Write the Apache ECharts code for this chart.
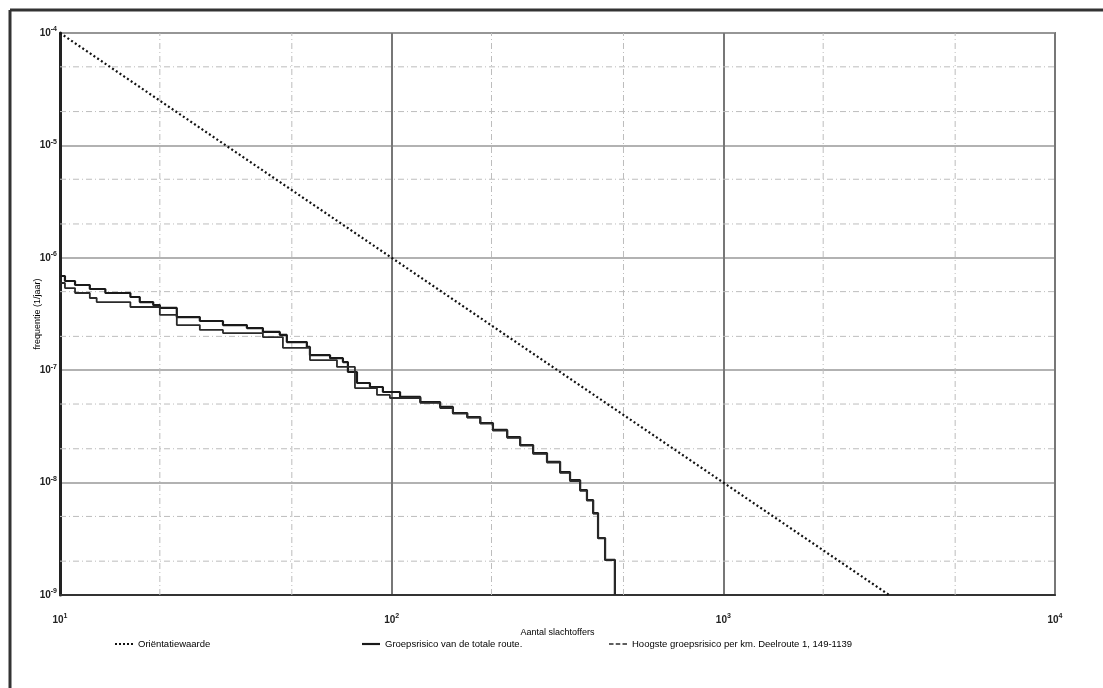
<!DOCTYPE html>
<html>
<head>
<meta charset="utf-8">
<script src="https://cdn.jsdelivr.net/npm/echarts@6/dist/echarts.min.js"></script>
<style>
html,body{margin:0;padding:0;background:#fff;}
#chart{width:1103px;height:688px;}
</style>
</head>
<body>
<div id="chart"></div>
<script>
// ---- data ----
const xExponents = [1, 2, 3, 4];
const yExponents = [-9, -8, -7, -6, -5, -4];

const orientN = [10, 3162.3];
const orientF = [1e-4, 1e-9];

const totalN = [10, 10.35, 11.1, 12.3, 13.7, 16.3, 17.4, 19.1, 20, 22.5, 26.4, 31, 36.6, 40.9, 46, 48.3, 55.5, 56.7, 65.2, 71.3, 73.8, 78.6, 86, 94.1, 106, 122, 140, 153, 169, 185, 202, 223, 244, 267, 294, 322, 345, 370, 388, 405, 419, 440, 471];
const totalF = [6.89e-7, 6.22e-7, 5.73e-7, 5.28e-7, 4.86e-7, 4.48e-7, 4.04e-7, 3.80e-7, 3.58e-7, 2.97e-7, 2.74e-7, 2.52e-7, 2.37e-7, 2.19e-7, 2.06e-7, 1.78e-7, 1.61e-7, 1.36e-7, 1.28e-7, 1.18e-7, 9.64e-8, 7.69e-8, 7.09e-8, 6.40e-8, 5.78e-8, 5.21e-8, 4.71e-8, 4.16e-8, 3.83e-8, 3.39e-8, 2.94e-8, 2.54e-8, 2.16e-8, 1.83e-8, 1.53e-8, 1.24e-8, 1.05e-8, 8.59e-9, 7.00e-9, 5.36e-9, 3.21e-9, 2.05e-9, 1e-9];

const kmN = [10, 10.35, 11.1, 12.3, 12.9, 16.3, 20, 22.5, 26.4, 31, 40.9, 47, 56.7, 68.4, 77.5, 90.3, 98.8, 122, 140, 153, 169, 185, 202, 223, 244, 267, 294, 322, 345, 370, 388, 405, 419, 440, 471];
const kmF = [5.97e-7, 5.38e-7, 4.86e-7, 4.39e-7, 4.04e-7, 3.65e-7, 3.10e-7, 2.52e-7, 2.28e-7, 2.14e-7, 1.97e-7, 1.58e-7, 1.23e-7, 1.07e-7, 6.94e-8, 6.02e-8, 5.66e-8, 5.11e-8, 4.61e-8, 4.10e-8, 3.78e-8, 3.35e-8, 2.90e-8, 2.50e-8, 2.13e-8, 1.80e-8, 1.51e-8, 1.22e-8, 1.03e-8, 8.45e-9, 6.9e-9, 5.3e-9, 3.2e-9, 2.05e-9, 1e-9];

const minorX = [20, 50, 200, 500, 2000, 5000];
const minorY = [2e-9, 5e-9, 2e-8, 5e-8, 2e-7, 5e-7, 2e-6, 5e-6, 2e-5, 5e-5];

const names = ['Oriëntatiewaarde', 'Groepsrisico van de totale route.', 'Hoogste groepsrisico per km. Deelroute 1, 149-1139'];
const xName = 'Aantal slachtoffers';
const yName = 'frequentie (1/jaar)';

// ---- chart ----
const FONT = "'Liberation Sans Narrow', 'Liberation Sans', Arial, sans-serif";
const zip = (a, b) => a.map((v, i) => [v, b[i]]);
const supFmt = (list) => (v) => {
  const e = Math.round(Math.log10(v));
  return list.includes(e) ? '{b|10}{s|' + e + '}' : '';
};
const rich = {
  b: { fontSize: 10, fontWeight: 'bold', fontFamily: FONT, color: '#222' },
  s: { fontSize: 7, fontWeight: 'bold', fontFamily: FONT, color: '#222', padding: [0, 0, 7, 0] }
};
const X_MIN = 10, X_MAX = 10000, Y_MIN = 1e-9, Y_MAX = 1e-4;

const chart = echarts.init(document.getElementById('chart'), null, { renderer: 'canvas' });
const legendText = { fontSize: 9.5, fontFamily: FONT, color: '#000' };
const minorStyle = { color: '#bdbdbd', width: 1, type: [6, 3, 1, 3] };

const minorSeries = minorX.map(v => ({
  type: 'line', data: [[v, Y_MIN], [v, Y_MAX]], showSymbol: false, symbol: 'none', silent: true,
  lineStyle: minorStyle, z: 1
})).concat(minorY.map(v => ({
  type: 'line', data: [[X_MIN, v], [X_MAX, v]], showSymbol: false, symbol: 'none', silent: true,
  lineStyle: minorStyle, z: 1
})));

chart.setOption({
  animation: false,
  backgroundColor: '#fff',
  grid: { left: 60, right: 48, top: 33, bottom: 93, show: true, borderColor: '#777', borderWidth: 2, containLabel: false },
  xAxis: {
    type: 'log', logBase: 10, min: X_MIN, max: X_MAX,
    name: xName, nameLocation: 'middle', nameGap: 33, nameMoveOverlap: false,
    nameTextStyle: { fontSize: 9, fontFamily: FONT, color: '#000' },
    axisLine: { show: true, lineStyle: { color: '#333', width: 2 } },
    axisTick: { show: false },
    axisLabel: { margin: 18, formatter: supFmt(xExponents), rich: rich },
    splitLine: { show: true, lineStyle: { color: '#777', width: 2 } }
  },
  yAxis: {
    type: 'log', logBase: 10, min: Y_MIN, max: Y_MAX,
    name: yName, nameLocation: 'middle', nameGap: 18, nameRotate: 90, nameMoveOverlap: false,
    nameTextStyle: { fontSize: 9, fontFamily: FONT, color: '#000' },
    axisLine: { show: true, lineStyle: { color: '#222', width: 3 } },
    axisTick: { show: false },
    axisLabel: { margin: 3, formatter: supFmt(yExponents), rich: rich },
    splitLine: { show: true, lineStyle: { color: '#999', width: 1.5 } }
  },
  legend: [
    { data: [{ name: names[0], icon: 'path://M0,0h2v2h-2zM4,0h2v2h-2zM8,0h2v2h-2zM12,0h2v2h-2zM16,0h2v2h-2z' }],
      left: 115, top: 639, itemWidth: 18, itemHeight: 3, textStyle: legendText, padding: 0 },
    { data: [{ name: names[1], icon: 'path://M0,0h20v2.4h-20z' }],
      left: 362, top: 639, itemWidth: 18, itemHeight: 3, textStyle: legendText, padding: 0 },
    { data: [{ name: names[2], icon: 'path://M0,0h5v1.5h-5zM7.5,0h5v1.5h-5zM15,0h5v1.5h-5z' }],
      left: 609, top: 639, itemWidth: 18, itemHeight: 3, textStyle: legendText, padding: 0 }
  ],
  graphic: [
    { type: 'line', shape: { x1: 10, y1: 10, x2: 1103, y2: 10 }, style: { stroke: '#333', lineWidth: 3 } },
    { type: 'line', shape: { x1: 10, y1: 10, x2: 10, y2: 688 }, style: { stroke: '#333', lineWidth: 3 } }
  ],
  series: minorSeries.concat([
    {
      name: names[0], type: 'line', data: zip(orientN, orientF), showSymbol: false, symbol: 'none',
      lineStyle: { color: '#111', width: 2.2, type: [2, 2.5] }, itemStyle: { color: '#111' }, z: 3
    },
    {
      name: names[1], type: 'line', step: 'end', data: zip(totalN, totalF), showSymbol: false, symbol: 'none',
      lineStyle: { color: '#1a1a1a', width: 2.2 }, itemStyle: { color: '#1a1a1a' }, z: 4
    },
    {
      name: names[2], type: 'line', step: 'end', data: zip(kmN, kmF), showSymbol: false, symbol: 'none',
      lineStyle: { color: '#2a2a2a', width: 1.8 }, itemStyle: { color: '#2a2a2a' }, z: 4
    }
  ])
});
</script>
</body>
</html>
